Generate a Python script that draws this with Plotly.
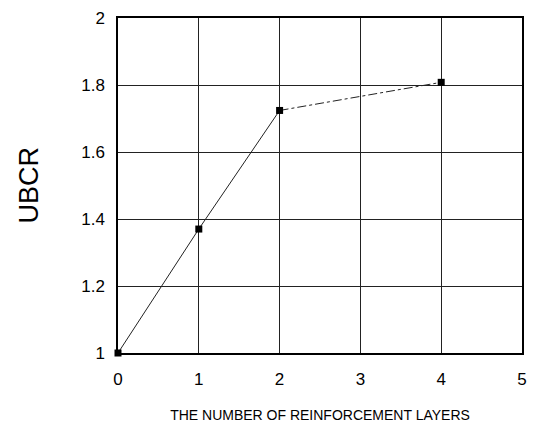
import plotly.graph_objects as go

layers = [0, 1, 2, 4]
ubcr = [1.0, 1.37, 1.724, 1.808]
x_ticks = [0, 1, 2, 3, 4, 5]
y_ticks = [1, 1.2, 1.4, 1.6, 1.8, 2]
y_tick_text = ["1", "1.2", "1.4", "1.6", "1.8", "2"]

font_family = "Liberation Sans, Arial, sans-serif"

fig = go.Figure()
fig.add_trace(go.Scatter(
    x=layers[:3], y=ubcr[:3], mode="lines",
    line=dict(color="#222", width=1), showlegend=False, cliponaxis=False))
fig.add_trace(go.Scatter(
    x=layers[2:], y=ubcr[2:], mode="lines",
    line=dict(color="#222", width=1, dash="dashdot"), showlegend=False, cliponaxis=False))
fig.add_trace(go.Scatter(
    x=layers, y=ubcr, mode="markers",
    marker=dict(symbol="square", size=7, color="black"),
    showlegend=False, cliponaxis=False))

L, R, T, B = 118, 9, 10, 76
W, H = 536, 430
pw, ph = W - L - R, H - T - B

fig.update_layout(
    width=W, height=H,
    margin=dict(l=L, r=R, t=T, b=B),
    paper_bgcolor="white", plot_bgcolor="white",
    font=dict(family=font_family, color="black"),
    annotations=[
        dict(text="UBCR", x=(27 - L) / pw, y=(H - B - 182) / ph,
             xref="paper", yref="paper", xanchor="center", yanchor="middle",
             showarrow=False, textangle=-90, font=dict(size=27, color="black")),
    ],
)

fig.update_xaxes(
    range=[0, 5], tickvals=x_ticks, showgrid=True, gridcolor="#222", gridwidth=1,
    showline=True, linecolor="black", linewidth=1.5, mirror=True, zeroline=False,
    ticks="", tickfont=dict(size=17, color="black"), ticklabelstandoff=10,
    title=dict(text="THE NUMBER OF REINFORCEMENT LAYERS", font=dict(size=14, color="black"), standoff=22),
)
fig.update_yaxes(
    range=[1, 2], tickvals=y_ticks, ticktext=y_tick_text, showgrid=True, gridcolor="#222", gridwidth=1,
    showline=True, linecolor="black", linewidth=1.5, mirror=True, zeroline=False,
    ticks="", tickfont=dict(size=17, color="black"), ticklabelstandoff=8,
)

fig.write_html("out.html")
